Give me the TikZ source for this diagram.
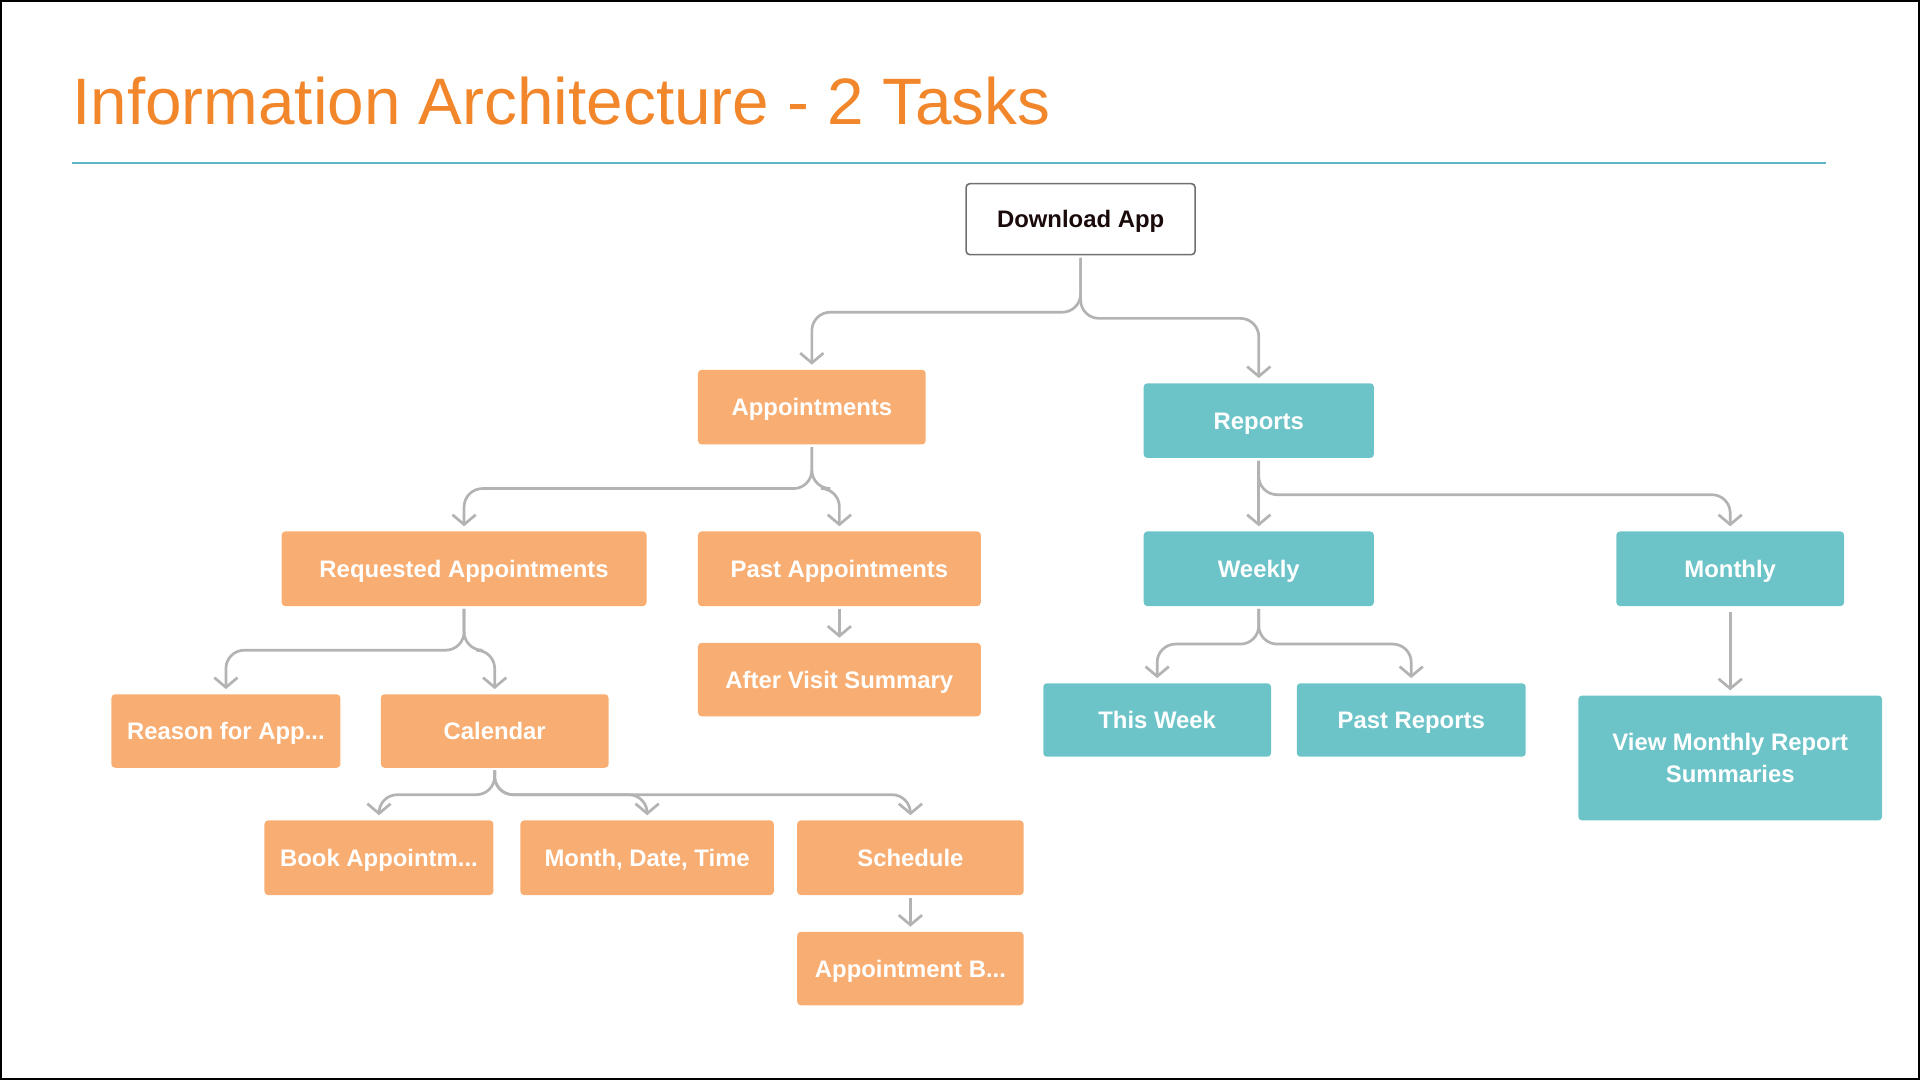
\documentclass[tikz,border=0pt]{standalone}
\usepackage{fontspec}
\setmainfont{Liberation Sans}
\usetikzlibrary{arrows.meta}
\definecolor{boxorange}{HTML}{F8AE72}
\definecolor{boxteal}{HTML}{6CC4C9}
\definecolor{titleorange}{HTML}{F2862B}
\definecolor{ruleteal}{HTML}{5BB7C3}
\definecolor{conngrey}{HTML}{B3B3B3}
\definecolor{startborder}{HTML}{707070}
\definecolor{darktext}{HTML}{1A0A0A}
\begin{document}
\begin{tikzpicture}[x=1pt,y=-1pt,
  box/.style={rectangle, rounded corners=3pt, inner sep=0pt, text=white,
    font=\fontsize{19.5}{26}\selectfont\bfseries, align=center},
  oneline/.style={text height=14pt, text depth=0pt},
  obox/.style={box, oneline, fill=boxorange},
  tbox/.style={box, oneline, fill=boxteal},
  tboxml/.style={box, fill=boxteal},
  startbox/.style={box, oneline, fill=white, draw=startborder, line width=1.3pt, text=darktext},
  conn/.style={draw=conngrey, line width=2.2pt, rounded corners=15pt,
    -{Straight Barb[length=8pt,width=19pt,line width=2.2pt]}, shorten >=4pt, shorten <=2pt}
]
\useasboundingbox (0,0) rectangle (1568,882);
\draw[black, line width=1.5pt] (0.75,0.75) rectangle (1567.25,881.25);

% title and rule
\node[anchor=base west, inner sep=0pt, text=titleorange, font=\fontsize{53.6}{60}\selectfont] (title) at (59,102) {Information Architecture - 2 Tasks};
\coordinate (ruleL) at (59,133);
\coordinate (ruleR) at (1491,133);
\draw[ruleteal, line width=2pt] (ruleL) -- (ruleR);

% nodes
\node[startbox, minimum width=187pt, minimum height=58pt] (dl) at (882.5,179) {Download App};
\node[obox, minimum width=186pt, minimum height=61pt] (appt) at (663,332.5) {Appointments};
\node[tbox, minimum width=188pt, minimum height=61pt] (rep) at (1028,343.5) {Reports};
\node[obox, minimum width=298pt, minimum height=61pt] (req) at (379,464.5) {Requested Appointments};
\node[obox, minimum width=231pt, minimum height=61pt] (past) at (685.5,464.5) {Past Appointments};
\node[tbox, minimum width=188pt, minimum height=61pt] (week) at (1028,464.5) {Weekly};
\node[tbox, minimum width=186pt, minimum height=61pt] (month) at (1413,464.5) {Monthly};
\node[obox, minimum width=231pt, minimum height=60pt] (avs) at (685.5,555) {After Visit Summary};
\node[obox, minimum width=187pt, minimum height=60pt] (reason) at (184.5,597) {Reason for App...};
\node[obox, minimum width=186pt, minimum height=60pt] (cal) at (404,597) {Calendar};
\node[tbox, minimum width=186pt, minimum height=60pt] (thisw) at (945,588) {This Week};
\node[tbox, minimum width=187pt, minimum height=60pt] (pastr) at (1152.5,588) {Past Reports};
\node[tboxml, minimum width=248pt, minimum height=102pt] (viewm) at (1413,619) {View Monthly Report\\Summaries};
\node[obox, minimum width=187pt, minimum height=61pt] (book) at (309.5,700.5) {Book Appointm...};
\node[obox, minimum width=207pt, minimum height=61pt] (mdt) at (528.5,700.5) {Month, Date, Time};
\node[obox, minimum width=185pt, minimum height=61pt] (sched) at (743.5,700.5) {Schedule};
\node[obox, minimum width=185pt, minimum height=60pt] (apb) at (743.5,791) {Appointment B...};

% branch levels
\coordinate (hA) at (0,255);
\coordinate (hR) at (0,260);
\coordinate (hAp) at (0,399);
\coordinate (hRp) at (0,404);
\coordinate (hReq) at (0,531);
\coordinate (hWk) at (0,526);
\coordinate (hCal) at (0,649);

% connectors
\draw[conn] (dl.south) -- (dl.south |- hA) -| (appt.north);
\draw[conn] (dl.south) -- (dl.south |- hR) -| (rep.north);
\draw[conn] (appt.south) -- (appt.south |- hAp) -| (req.north);
\draw[conn] (appt.south) -- (appt.south |- hAp) -| (past.north);
\draw[conn] (rep.south) -- (week.north);
\draw[conn] (rep.south) -- (rep.south |- hRp) -| (month.north);
\draw[conn] (past.south) -- (avs.north);
\draw[conn] (req.south) -- (req.south |- hReq) -| (reason.north);
\draw[conn] (req.south) -- (req.south |- hReq) -| (cal.north);
\draw[conn] (week.south) -- (week.south |- hWk) -| (thisw.north);
\draw[conn] (week.south) -- (week.south |- hWk) -| (pastr.north);
\draw[conn, shorten <=5pt] (month.south) -- (viewm.north);
\draw[conn] (cal.south) -- (cal.south |- hCal) -| (book.north);
\draw[conn] (cal.south) -- (cal.south |- hCal) -| (mdt.north);
\draw[conn] (cal.south) -- (cal.south |- hCal) -| (sched.north);
\draw[conn] (sched.south) -- (apb.north);
\end{tikzpicture}
\end{document}
